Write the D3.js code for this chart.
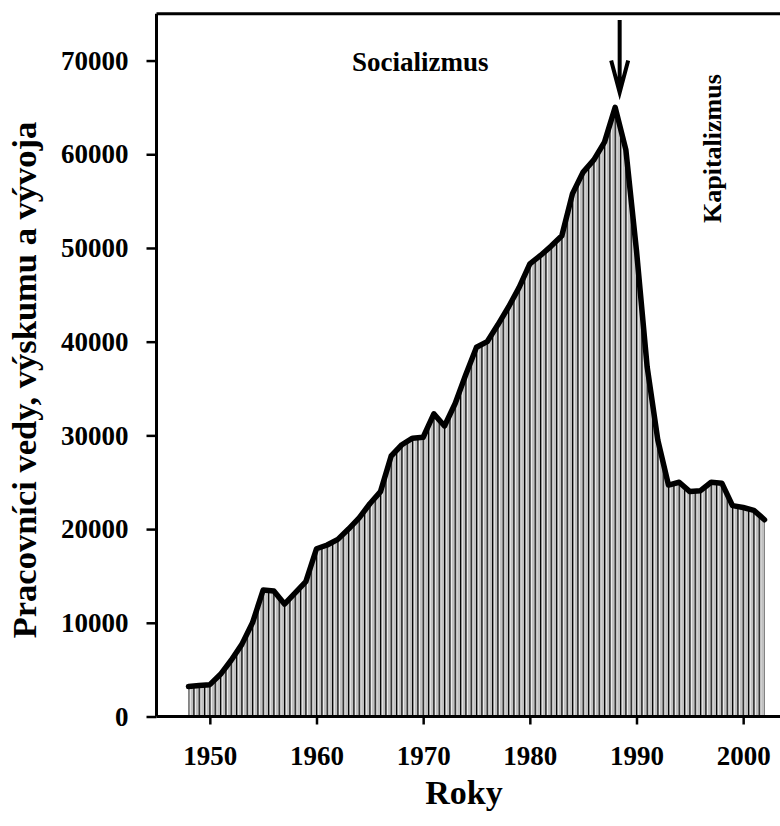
<!DOCTYPE html>
<html>
<head>
<meta charset="utf-8">
<script src="https://cdn.jsdelivr.net/npm/d3@7"></script>
<style>
  html, body { margin: 0; padding: 0; background: #fff; }
  svg { display: block; }
  text { font-family: "Liberation Serif", "Times New Roman", serif; font-weight: bold; fill: #000; }
</style>
</head>
<body>
<svg id="chart" width="780" height="826"></svg>
<script>
const years = [1948, 1949, 1950, 1951, 1952, 1953, 1954, 1955, 1956, 1957,
  1958, 1959, 1960, 1961, 1962, 1963, 1964, 1965, 1966, 1967,
  1968, 1969, 1970, 1971, 1972, 1973, 1974, 1975, 1976, 1977,
  1978, 1979, 1980, 1981, 1982, 1983, 1984, 1985, 1986, 1987,
  1988, 1989, 1990, 1991, 1992, 1993, 1994, 1995, 1996, 1997,
  1998, 1999, 2000, 2001, 2002];
const workers = [3200, 3300, 3400, 4500, 6000, 7700, 10000, 13500, 13400, 12000,
  13200, 14400, 17900, 18300, 18900, 20000, 21200, 22700, 24000, 27800,
  29000, 29700, 29800, 32300, 31000, 33400, 36500, 39400, 40000, 41800,
  43700, 45800, 48300, 49200, 50200, 51300, 55800, 58100, 59400, 61300,
  65000, 60500, 49700, 37300, 29500, 24700, 25000, 24000, 24100, 25000,
  24900, 22500, 22300, 22000, 21000];
const xTicks = [1950, 1960, 1970, 1980, 1990, 2000];
const yTicks = [0, 10000, 20000, 30000, 40000, 50000, 60000, 70000];
const xDomain = [1945, 2005];
const yDomain = [0, 75000];
const xTitle = "Roky";
const yTitle = "Pracovníci vedy, výskumu a vývoja";
const labelLeft = "Socializmus";
const labelRight = "Kapitalizmus";
const peakYear = 1988;

const data = years.map((yr, i) => ({ year: yr, value: workers[i] }));

const svg = d3.select("#chart");
const mLeft = 156.5, mRight = 796.5, mTop = 13.7, mBottom = 716.5;

const x = d3.scaleLinear().domain(xDomain).range([mLeft, mRight]);
const y = d3.scaleLinear().domain(yDomain).range([mBottom, mTop]);

// stripe pattern
const pw = (x(1951) - x(1950)) / 2;
const defs = svg.append("defs");
const pat = defs.append("pattern")
  .attr("id", "stripes")
  .attr("patternUnits", "userSpaceOnUse")
  .attr("x", x(1950) - 0.5)
  .attr("y", 0)
  .attr("width", pw)
  .attr("height", 20);
pat.append("rect").attr("width", pw).attr("height", 20).attr("fill", "#c0c0c0");
pat.append("rect").attr("x", 0).attr("width", 1.5).attr("height", 20).attr("fill", "#000");
pat.append("rect").attr("x", 1.5).attr("width", 1.0).attr("height", 20).attr("fill", "#fff");

// area
const area = d3.area()
  .x(d => x(d.year))
  .y0(y(0))
  .y1(d => y(d.value));
svg.append("path")
  .datum(data)
  .attr("d", area)
  .attr("fill", "url(#stripes)");

// line
const line = d3.line()
  .x(d => x(d.year))
  .y(d => y(d.value));
svg.append("path")
  .datum(data)
  .attr("d", line)
  .attr("fill", "none")
  .attr("stroke", "#000")
  .attr("stroke-width", 5.5)
  .attr("stroke-linejoin", "round")
  .attr("stroke-linecap", "round");

// frame (top and right)
svg.append("path")
  .attr("d", `M${mLeft},${mTop}H${mRight}V${mBottom}`)
  .attr("fill", "none")
  .attr("stroke", "#000")
  .attr("stroke-width", 3);

// axes
const xAxis = svg.append("g")
  .attr("transform", `translate(0,${mBottom})`)
  .call(d3.axisBottom(x).tickValues(xTicks).tickFormat(d3.format("d")).tickSize(8).tickPadding(21));
xAxis.select(".domain").attr("stroke-width", 3).attr("d", `M${mLeft},0H${mRight}`);
xAxis.selectAll(".tick line").attr("stroke-width", 2.5);
xAxis.selectAll(".tick text").attr("font-size", 27).attr("font-family", null).attr("font-weight", "bold");

const yAxis = svg.append("g")
  .attr("transform", `translate(${mLeft},0)`)
  .call(d3.axisLeft(y).tickValues(yTicks).tickFormat(d3.format("d")).tickSize(10).tickPadding(18));
yAxis.select(".domain").attr("stroke-width", 3).attr("d", `M0,${mTop}V${mBottom}`);
yAxis.selectAll(".tick line").attr("stroke-width", 2.5);
yAxis.selectAll(".tick text").attr("font-size", 27).attr("font-family", null).attr("font-weight", "bold");

// titles
svg.append("text")
  .attr("x", 464).attr("y", 804)
  .attr("text-anchor", "middle")
  .attr("font-size", 34)
  .text(xTitle);

svg.append("text")
  .attr("transform", "translate(36,380) rotate(-90)")
  .attr("text-anchor", "middle")
  .attr("font-size", 34.5)
  .text(yTitle);

// annotations
svg.append("text")
  .attr("x", 352).attr("y", 71)
  .attr("font-size", 27)
  .text(labelLeft);

svg.append("text")
  .attr("transform", "translate(721,223) rotate(-90)")
  .attr("text-anchor", "start")
  .attr("font-size", 26)
  .text(labelRight);

// arrow pointing at the peak
const ax = x(peakYear) + 4.5;
const tipY = y(65000) - 15;
svg.append("path")
  .attr("d", `M${ax},20V${tipY}M${ax - 8.5},${tipY - 32}L${ax},${tipY}L${ax + 8.5},${tipY - 32}`)
  .attr("fill", "none")
  .attr("stroke", "#000")
  .attr("stroke-width", 4)
  .attr("stroke-linejoin", "miter")
  .attr("stroke-linecap", "butt");
</script>
</body>
</html>
